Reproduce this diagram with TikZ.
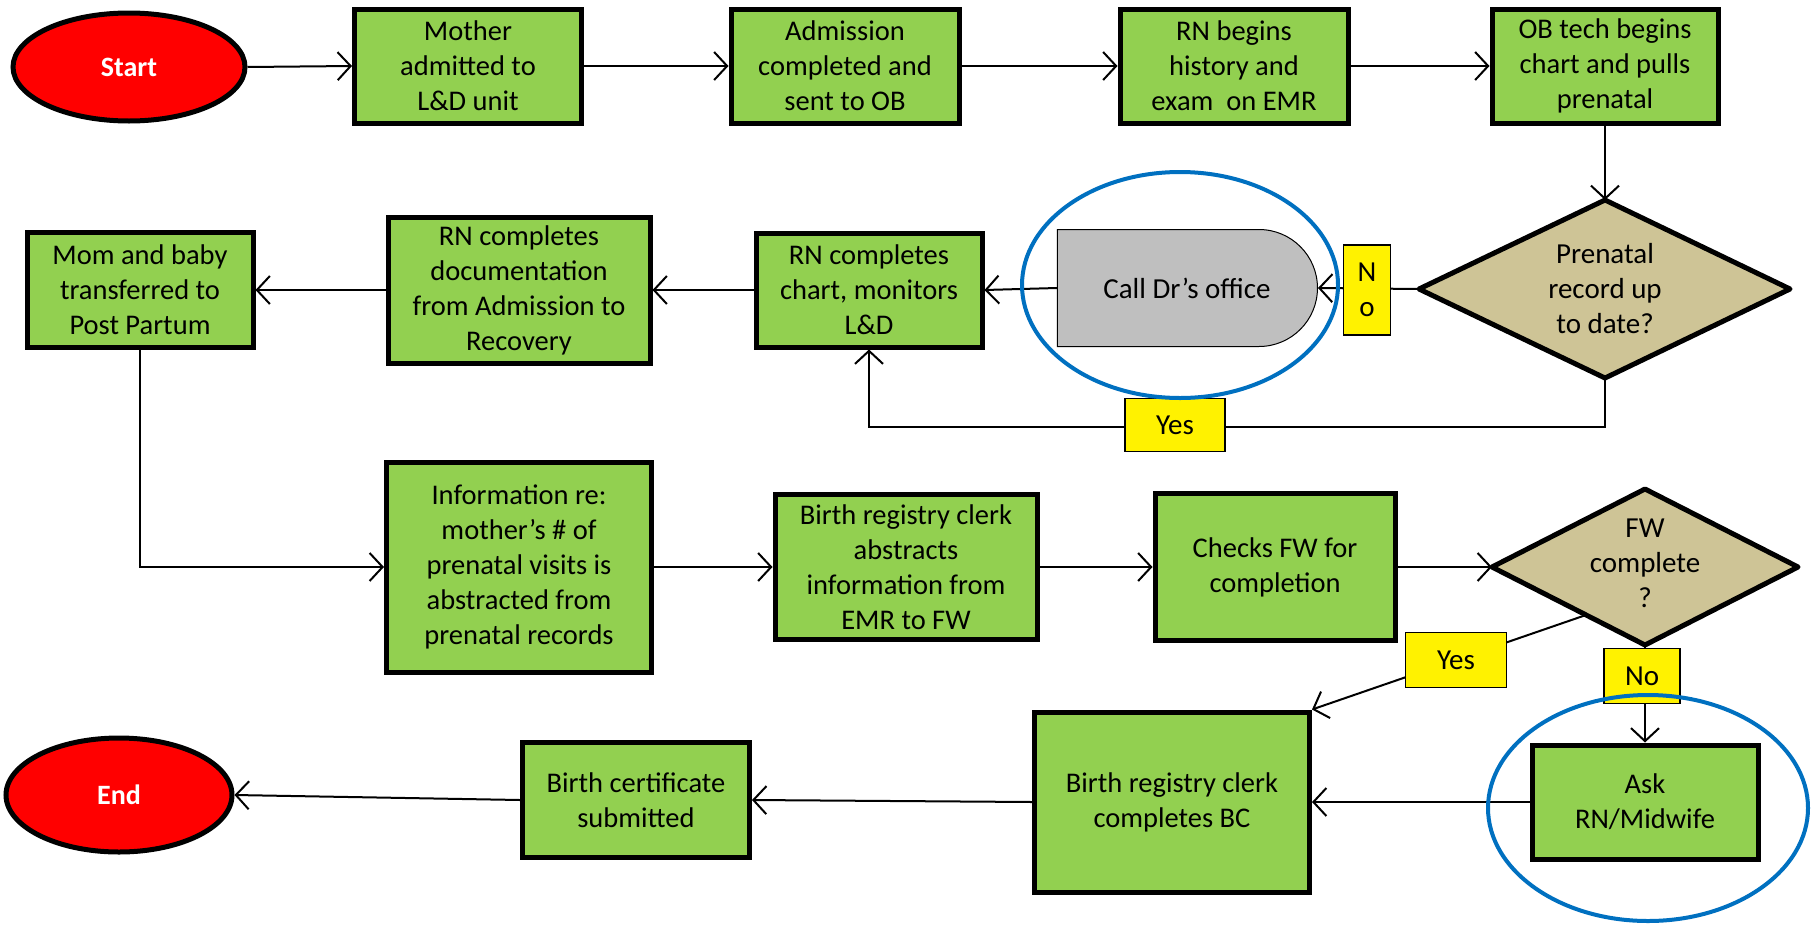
\documentclass[tikz,border=0pt]{standalone}
\usepackage{fontspec}
\setmainfont{Carlito}
\usetikzlibrary{shapes.geometric,shapes.misc,arrows.meta}
\definecolor{boxgreen}{HTML}{92D050}
\definecolor{dtan}{RGB}{206,196,150}
\definecolor{callgray}{HTML}{BFBFBF}
\definecolor{ovalblue}{HTML}{0070C0}
\begin{document}
\begin{tikzpicture}[x=1pt,y=-1pt,
  proc/.style={draw=black, line width=5pt, fill=boxgreen, align=center, inner sep=0pt, font=\fontsize{28.5}{35}\selectfont},
  term/.style={ellipse, draw=black, line width=5pt, fill=red, text=white, inner sep=0pt, font=\fontsize{28}{32}\selectfont\bfseries},
  lbl/.style={draw=black, line width=1.2pt, fill=yellow, inner sep=0pt, align=center, font=\fontsize{29}{35}\selectfont},
  diam/.style={draw=black, line width=5pt, fill=dtan, line join=round},
  dtext/.style={align=center, inner sep=0pt, font=\fontsize{29}{35}\selectfont},
  conn/.style={line width=2pt, -{Straight Barb[length=13pt,width=28pt,line width=2pt]}},
  focus/.style={draw=ovalblue, line width=4pt}
]
\useasboundingbox (0,0) rectangle (1814,929);

% top row
\node[term, minimum width=232pt, minimum height=108pt] (start) at (129,67) {Start};
\node[proc, minimum width=227pt, minimum height=114pt] (b1) at (468,66) {Mother\\admitted to\\L\&D unit};
\node[proc, minimum width=228pt, minimum height=114pt] (b2) at (845,66) {Admission\\completed and\\sent to OB};
\node[proc, minimum width=228pt, minimum height=114pt] (b3) at (1234,66) {RN begins\\history and\\exam\ \ on EMR};
\node[proc, minimum width=226pt, minimum height=114pt] (b4) at (1605,66) {OB tech begins\\chart and pulls\\prenatal};

% first decision
\coordinate (d1t) at (1605,200);
\coordinate (d1r) at (1790,289);
\coordinate (d1b) at (1605,378);
\coordinate (d1l) at (1419,289);
\draw[diam] (d1t) -- (d1r) -- (d1b) -- (d1l) -- cycle;
\node[dtext] (d1) at (1605,289) {Prenatal\\record up\\to date?};

\node[rounded rectangle, rounded rectangle left arc=none, draw=black, line width=1pt, fill=callgray,
      minimum width=260pt, minimum height=117pt, inner sep=0pt, font=\fontsize{29}{35}\selectfont] (call) at (1187,288) {Call Dr’s office};

% middle row
\node[proc, minimum width=226pt, minimum height=114pt] (b5) at (869,290) {RN completes\\chart, monitors\\L\&D};
\node[proc, minimum width=262pt, minimum height=146pt] (b6) at (519,290) {RN completes\\documentation\\from Admission to\\Recovery};
\node[proc, minimum width=226pt, minimum height=115pt] (b7) at (140,290) {Mom and baby\\transferred to\\Post Partum};

% third row
\node[proc, minimum width=265pt, minimum height=210pt] (b8) at (519,567) {Information re:\\mother’s \# of\\prenatal visits is\\abstracted from\\prenatal records};
\node[proc, minimum width=262pt, minimum height=145pt] (b9) at (906,567) {Birth registry clerk\\abstracts\\information from\\EMR to FW};
\node[proc, minimum width=240pt, minimum height=147pt] (b10) at (1275,567) {Checks FW for\\completion};

% second decision
\coordinate (d2t) at (1645,489);
\coordinate (d2r) at (1798,567);
\coordinate (d2b) at (1645,645);
\coordinate (d2l) at (1492,567);
\coordinate (d2y) at (1586,615);
\draw[diam] (d2t) -- (d2r) -- (d2b) -- (d2l) -- cycle;
\node[dtext] (d2) at (1645,563) {FW\\complete\\?};

% bottom row
\node[proc, minimum width=226pt, minimum height=114pt] (b11) at (1645,802) {Ask\\RN/Midwife};
\node[proc, minimum width=275pt, minimum height=180pt] (b12) at (1172,802) {Birth registry clerk\\completes BC};
\node[proc, minimum width=227pt, minimum height=115pt] (b13) at (636,800) {Birth certificate\\submitted};
\node[term, minimum width=226pt, minimum height=114pt] (end) at (119,795) {End};

% connectors
\draw[conn] (start.east) -- (b1.west);
\draw[conn] (b1.east) -- (b2.west);
\draw[conn] (b2.east) -- (b3.west);
\draw[conn] (b3.east) -- (b4.west);
\draw[conn] (b4.south) -- (d1t);
\draw[conn] (d1l) -- (call.east);
\draw[conn] (call.west) -- (b5.east);
\draw[conn] (b5.west) -- (b6.east);
\draw[conn] (b6.west) -- (b7.east);
\coordinate (loopy) at (1175,427);
\draw[conn] (d1b) -- (d1b |- loopy) -| (b5.south);
\draw[conn, line width=1.5pt] (b7.south) |- (b8.west);
\draw[conn] (b8.east) -- (b9.west);
\draw[conn] (b9.east) -- (b10.west);
\draw[conn] (b10.east) -- (d2l);
\draw[conn] (d2y) -- (b12.north east);
\draw[conn] (d2b) -- (b11.north);
\draw[conn] (b11.west) -- (b12.east);
\draw[conn] (b12.west) -- (b13.east);
\draw[conn] (b13.west) -- (end.east);

% labels
\node[lbl, minimum width=47pt, minimum height=90pt] (no1) at (1367,290) {N\\o};
\node[lbl, minimum width=100pt, minimum height=53pt] (yes1) at (1175,425) {Yes};
\node[lbl, minimum width=101pt, minimum height=55pt] (yes2) at (1456,660) {Yes};
\node[lbl, minimum width=76pt, minimum height=55pt] (no2) at (1642,676) {No};

% highlight ovals
\draw[focus] (1180,285) ellipse [x radius=158pt, y radius=113pt];
\draw[focus] (1648,808) ellipse [x radius=160pt, y radius=113pt];
\end{tikzpicture}
\end{document}
